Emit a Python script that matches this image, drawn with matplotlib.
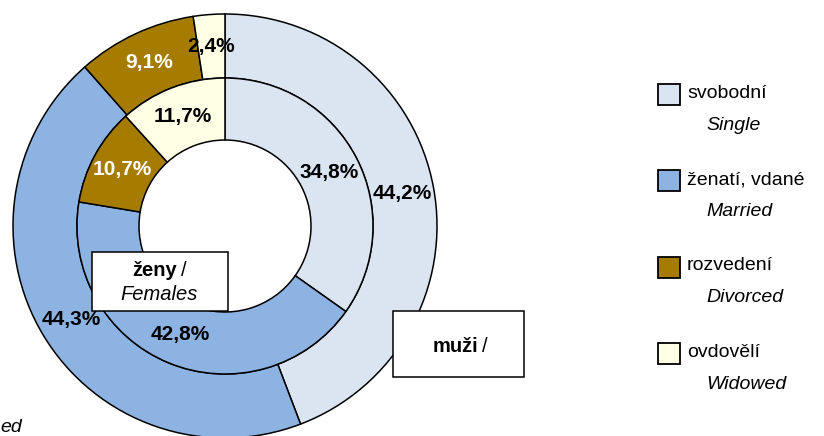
import matplotlib.pyplot as plt
from matplotlib.patches import Rectangle

# marital status categories
categories = ['svobodní', 'ženatí, vdané', 'rozvedení', 'ovdovělí']
categories_en = ['Single', 'Married', 'Divorced', 'Widowed']
outer_vals = [44.2, 44.3, 9.1, 2.4]   # muži / Males
inner_vals = [34.8, 42.8, 10.7, 11.7]  # ženy / Females

colors = ['#DBE5F1', '#8DB3E2', '#A67C00', '#FFFFE5']
pct_colors = ['black', 'black', 'white', 'black']

plt.rcParams['font.family'] = ['Liberation Sans', 'DejaVu Sans']

W, H = 824, 436
fig = plt.figure(figsize=(W / 100, H / 100), dpi=100)
ax = fig.add_axes([0, 0, 1, 1])

cx, cy = 225, H - 226
r_out, r_mid, r_hole = 212, 148, 86


def fmt(p):
    return ('%.1f%%' % p).replace('.', ',')


wp = dict(edgecolor='black', linewidth=1.1)
w1, t1, a1 = ax.pie(outer_vals, colors=colors, startangle=90, counterclock=False,
                    radius=r_out, center=(cx, cy), autopct=fmt,
                    pctdistance=180 / r_out,
                    wedgeprops=dict(width=r_out - r_mid, **wp))
w2, t2, a2 = ax.pie(inner_vals, colors=colors, startangle=90, counterclock=False,
                    radius=r_mid, center=(cx, cy), autopct=fmt,
                    pctdistance=117 / r_mid,
                    wedgeprops=dict(width=r_mid - r_hole, **wp))
for txts in (a1, a2):
    for t, c in zip(txts, pct_colors):
        t.set_color(c)
        t.set_fontsize(15)
        t.set_fontweight('bold')

# ring name boxes
ax.add_patch(Rectangle((92, H - 311), 136, 59, facecolor='white',
                       edgecolor='black', linewidth=1.1, zorder=5))
ax.text(177, H - 270, 'ženy', ha='right', va='center', fontsize=14.5,
        fontweight='bold', zorder=6)
ax.text(181, H - 270, '/', ha='left', va='center', fontsize=14.5, zorder=6)
ax.text(159, H - 294, 'Females', ha='center', va='center', fontsize=14.5,
        style='italic', zorder=6)

ax.add_patch(Rectangle((393, H - 377), 131, 66, facecolor='white',
                       edgecolor='black', linewidth=1.1, zorder=5))
ax.text(478, H - 346, 'muži', ha='right', va='center', fontsize=14.5,
        fontweight='bold', zorder=6)
ax.text(482, H - 346, '/', ha='left', va='center', fontsize=14.5, zorder=6)

# partly hidden text at bottom left
ax.text(0, H - 427, 'ed', ha='left', va='center', fontsize=14, style='italic')

# legend
for i, (cz, en, col) in enumerate(zip(categories, categories_en, colors)):
    y = H - (95 + i * 86)
    ax.add_patch(Rectangle((658, y - 10.5), 22, 21, facecolor=col,
                           edgecolor='black', linewidth=1.3))
    ax.text(687, y + 1, cz, ha='left', va='center', fontsize=14)
    ax.text(706, y - 31, en, ha='left', va='center', fontsize=14, style='italic')

ax.set_xlim(0, W)
ax.set_ylim(0, H)
ax.set_aspect('auto')
ax.axis('off')

fig.savefig('out.png', dpi=100)
